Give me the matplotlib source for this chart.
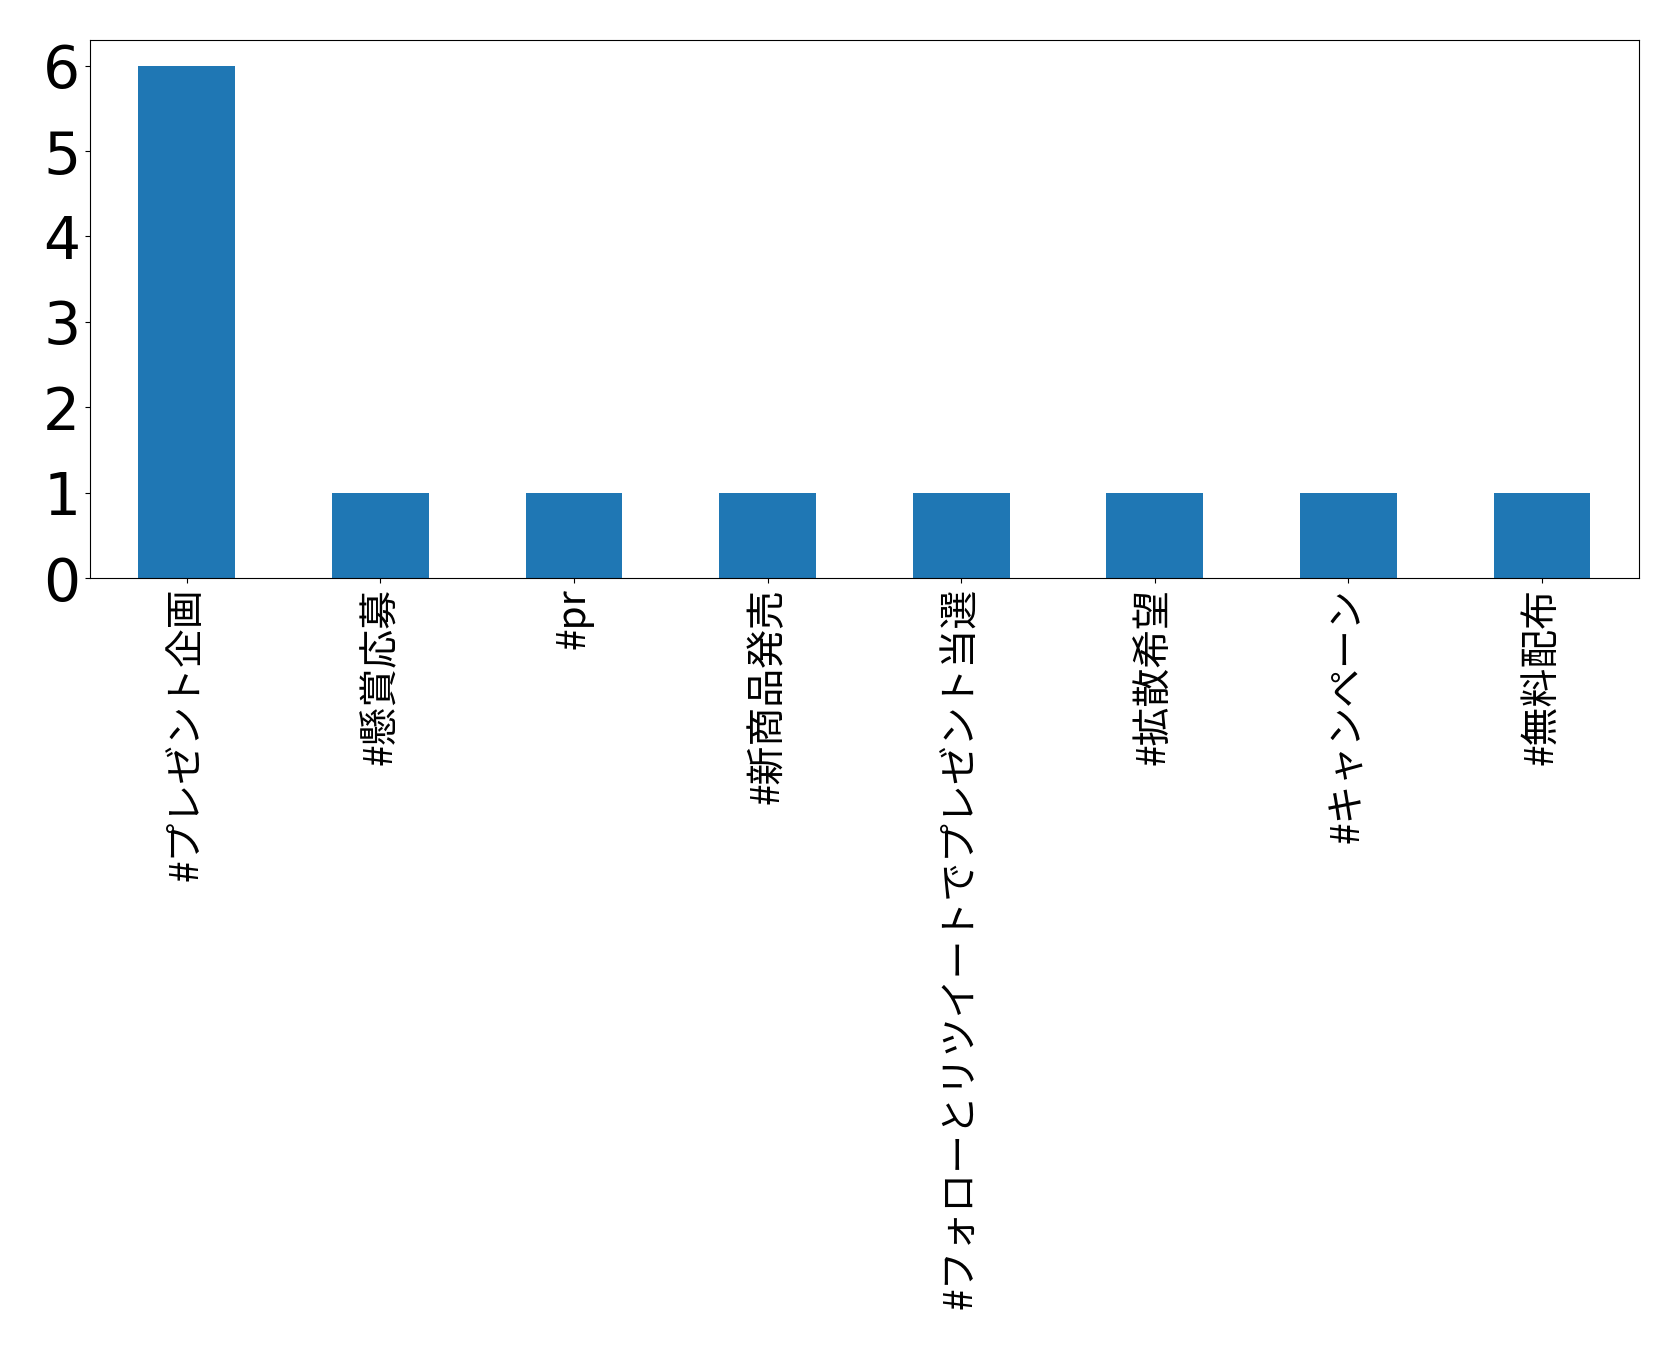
import matplotlib
matplotlib.use("Agg")
import matplotlib.pyplot as plt

plt.rcParams['font.family'] = ['Noto Sans CJK JP', 'DejaVu Sans']

hashtags = [
    "#プレゼント企画",
    "#懸賞応募",
    "#pr",
    "#新商品発売",
    "#フォローとリツイートでプレゼント当選",
    "#拡散希望",
    "#キャンペーン",
    "#無料配布",
]
counts = [6, 1, 1, 1, 1, 1, 1, 1]

fig = plt.figure(figsize=(16.79, 13.56), dpi=100)
ax = fig.add_axes([0.0536, 0.5737, 0.9224, 0.3968])

x = list(range(len(hashtags)))
ax.bar(x, counts, width=0.5, color="#1f77b4")
ax.set_xlim(-0.5, len(hashtags) - 0.5)
ax.set_ylim(0, max(counts) * 1.05)
ax.set_yticks(range(0, 7))
ax.set_xticks(x)
ax.set_xticklabels(hashtags, rotation=90, fontsize=28,
                   family=['Noto Sans CJK JP', 'DejaVu Sans'])
for lab in ax.get_yticklabels():
    lab.set_fontsize(42)
    lab.set_family('DejaVu Sans')

fig.savefig("out.png", dpi=100)
